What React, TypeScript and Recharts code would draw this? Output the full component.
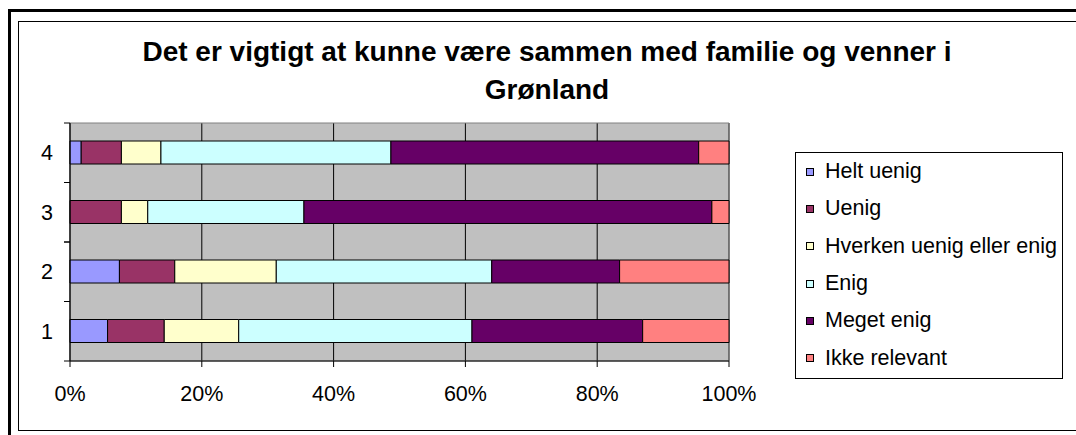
import React from "react";
import {
  BarChart,
  Bar,
  XAxis,
  YAxis,
  CartesianGrid,
  Legend,
  ReferenceArea,
} from "recharts";

// ---- data ----
const TITLE_LINES = [
  "Det er vigtigt at kunne være sammen med familie og venner i",
  "Grønland",
];
const CATEGORIES = ["1", "2", "3", "4"];
const SERIES_NAMES = [
  "Helt uenig",
  "Uenig",
  "Hverken uenig eller enig",
  "Enig",
  "Meget enig",
  "Ikke relevant",
];
const HELT_UENIG = [5.7, 7.5, 0, 1.7];
const UENIG = [8.6, 8.4, 7.8, 6.1];
const HVERKEN = [11.3, 15.4, 4.0, 6.0];
const ENIG = [35.4, 32.7, 23.7, 34.9];
const MEGET_ENIG = [25.9, 19.4, 61.9, 46.7];
const IKKE_RELEVANT = [13.1, 16.6, 2.6, 4.6];
const X_TICKS = [0, 20, 40, 60, 80, 100];

// ---- styling ----
const COLORS = ["#9999FF", "#993366", "#FFFFCC", "#CCFFFF", "#660066", "#FF8080"];
const FONT = '"Liberation Sans", Arial, Helvetica, sans-serif';
const TICK_SIZE = 6;
const TICK_MARGIN = 11;

const SERIES_VALUES = [HELT_UENIG, UENIG, HVERKEN, ENIG, MEGET_ENIG, IKKE_RELEVANT];
const KEYS = SERIES_NAMES.map((_, i) => `s${i}`);

const data = CATEGORIES.map((cat, ci) => {
  const row: Record<string, any> = { cat };
  SERIES_VALUES.forEach((arr, si) => {
    row[KEYS[si]] = arr[ci];
  });
  return row;
});

const YTick = (props: any) => {
  const { x, y, payload } = props;
  const half = payload && typeof payload.offset === "number" ? payload.offset : 0;
  const axisX = x + TICK_MARGIN + TICK_SIZE;
  return (
    <g>
      <line x1={axisX - TICK_SIZE} x2={axisX} y1={y - half} y2={y - half} stroke="#000" />
      <line x1={axisX - TICK_SIZE} x2={axisX} y1={y + half} y2={y + half} stroke="#000" />
      <text
        x={x}
        y={y}
        dy="0.36em"
        textAnchor="end"
        fill="#000"
        fontSize={21.5}
        fontFamily={FONT}
      >
        {payload.value}
      </text>
    </g>
  );
};

const LegendContent = () => (
  <div
    style={{
      boxSizing: "border-box",
      width: "100%",
      height: "100%",
      border: "1px solid #000",
      background: "#fff",
      fontFamily: FONT,
      fontSize: 21.5,
      color: "#000",
      paddingTop: 0,
    }}
  >
    {SERIES_NAMES.map((name, i) => (
      <div
        key={name}
        style={{
          height: 37.3,
          display: "flex",
          alignItems: "center",
          paddingLeft: 10,
          whiteSpace: "nowrap",
        }}
      >
        <span
          style={{
            display: "inline-block",
            width: 6,
            height: 6,
            border: "1px solid #000",
            background: COLORS[i],
            marginRight: 11,
            flex: "none",
          }}
        />
        <span>{name}</span>
      </div>
    ))}
  </div>
);

export default function App() {
  return (
    <div
      style={{
        position: "absolute",
        left: 0,
        top: 0,
        width: 1076,
        height: 435,
        overflow: "hidden",
        background: "#fff",
        fontFamily: FONT,
      }}
    >
      {/* outer thick frame */}
      <div
        style={{
          position: "absolute",
          left: 8,
          top: 9,
          width: 1200,
          height: 1000,
          border: "3px solid #000",
        }}
      />
      {/* inner thin frame */}
      <div
        style={{
          position: "absolute",
          left: 18,
          top: 21,
          width: 1200,
          height: 408,
          border: "1px solid #000",
        }}
      />
      {/* title */}
      <div
        style={{
          position: "absolute",
          left: 47,
          top: 33,
          width: 1000,
          textAlign: "center",
          fontWeight: "bold",
          fontSize: 28,
          lineHeight: "37.6px",
          color: "#000",
          whiteSpace: "nowrap",
        }}
      >
        {TITLE_LINES.map((t) => (
          <div key={t}>{t}</div>
        ))}
      </div>
      <div style={{ position: "absolute", left: 0, top: 0 }}>
        <BarChart
          width={1076}
          height={435}
          data={data}
          layout="vertical"
          margin={{ top: 123, right: 347, bottom: 34, left: 20 }}
          barSize={23}
        >
          <CartesianGrid
            horizontal={false}
            vertical={true}
            stroke="#000"
            strokeOpacity={1}
            fill="#C0C0C0"
            fillOpacity={1}
          />
          <ReferenceArea x1={0} x2={100} fill="none" stroke="#808080" strokeWidth={1} />
          <XAxis
            type="number"
            domain={[0, 100]}
            ticks={X_TICKS}
            interval={0}
            tickFormatter={(v: number) => `${v}%`}
            axisLine={{ stroke: "#000" }}
            tickLine={{ stroke: "#000" }}
            tickSize={TICK_SIZE}
            tickMargin={19}
            height={40}
            tick={{ fill: "#000", fontSize: 21.5, fontFamily: FONT }}
          />
          <YAxis
            type="category"
            dataKey="cat"
            reversed
            width={50}
            axisLine={{ stroke: "#000" }}
            tickLine={false}
            tickSize={TICK_SIZE}
            tickMargin={TICK_MARGIN}
            tick={<YTick />}
            interval={0}
          />
          <Legend
            layout="vertical"
            align="center"
            verticalAlign="middle"
            content={<LegendContent />}
            wrapperStyle={{ left: 795, top: 152, width: 268, height: 227 }}
          />
          {SERIES_NAMES.map((name, i) => (
            <Bar
              key={name}
              dataKey={KEYS[i]}
              name={name}
              stackId="a"
              fill={COLORS[i]}
              stroke="#000"
              strokeWidth={1}
              isAnimationActive={false}
            />
          ))}
        </BarChart>
      </div>
    </div>
  );
}
